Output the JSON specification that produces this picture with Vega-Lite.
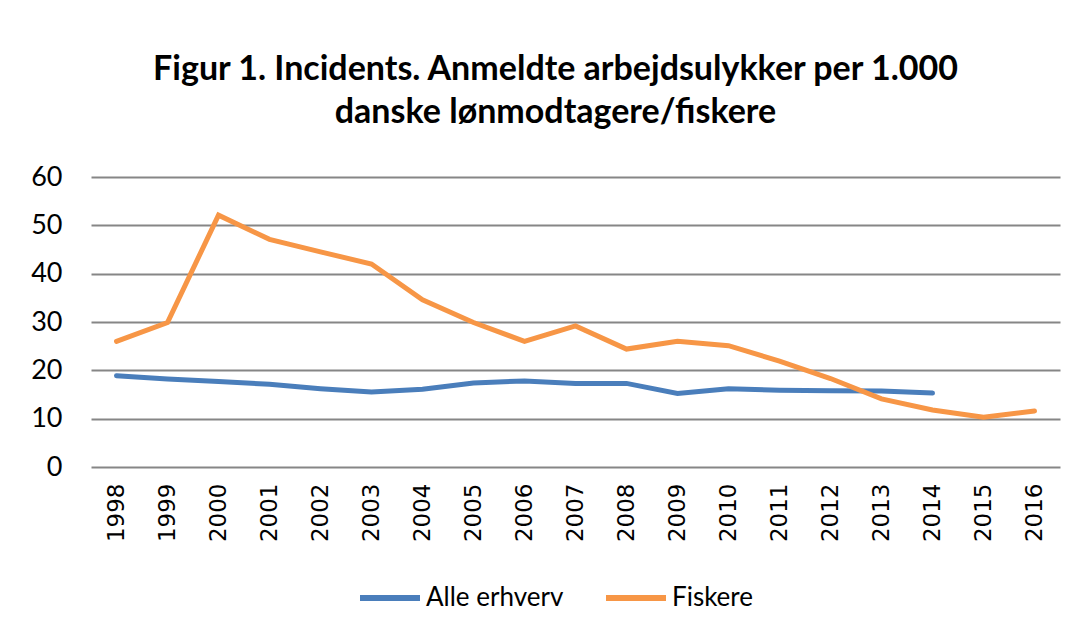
{
  "$schema": "https://vega.github.io/schema/vega-lite/v6.json",
  "width": 969,
  "height": 290,
  "autosize": {"type": "none"},
  "padding": {"left": 91, "top": 177, "right": 26, "bottom": 171},
  "background": "white",
  "title": {
    "text": ["Figur 1. Incidents. Anmeldte arbejdsulykker per 1.000", "danske lønmodtagere/fiskere"],
    "font": "Lato",
    "fontSize": 34,
    "fontWeight": "bold",
    "color": "black",
    "anchor": "middle",
    "dx": -20,
    "offset": 33,
    "lineHeight": 43
  },
  "data": {
    "values": [
      {"year": "1998", "series": "Alle erhverv", "value": 18.9},
      {"year": "1999", "series": "Alle erhverv", "value": 18.2},
      {"year": "2000", "series": "Alle erhverv", "value": 17.7},
      {"year": "2001", "series": "Alle erhverv", "value": 17.1},
      {"year": "2002", "series": "Alle erhverv", "value": 16.2},
      {"year": "2003", "series": "Alle erhverv", "value": 15.5},
      {"year": "2004", "series": "Alle erhverv", "value": 16.1},
      {"year": "2005", "series": "Alle erhverv", "value": 17.4},
      {"year": "2006", "series": "Alle erhverv", "value": 17.8},
      {"year": "2007", "series": "Alle erhverv", "value": 17.3},
      {"year": "2008", "series": "Alle erhverv", "value": 17.3},
      {"year": "2009", "series": "Alle erhverv", "value": 15.2},
      {"year": "2010", "series": "Alle erhverv", "value": 16.2},
      {"year": "2011", "series": "Alle erhverv", "value": 15.9},
      {"year": "2012", "series": "Alle erhverv", "value": 15.8},
      {"year": "2013", "series": "Alle erhverv", "value": 15.7},
      {"year": "2014", "series": "Alle erhverv", "value": 15.3},
      {"year": "1998", "series": "Fiskere", "value": 26.0},
      {"year": "1999", "series": "Fiskere", "value": 29.9},
      {"year": "2000", "series": "Fiskere", "value": 52.1},
      {"year": "2001", "series": "Fiskere", "value": 47.1},
      {"year": "2002", "series": "Fiskere", "value": 44.5},
      {"year": "2003", "series": "Fiskere", "value": 42.0},
      {"year": "2004", "series": "Fiskere", "value": 34.6},
      {"year": "2005", "series": "Fiskere", "value": 29.9},
      {"year": "2006", "series": "Fiskere", "value": 26.0},
      {"year": "2007", "series": "Fiskere", "value": 29.2},
      {"year": "2008", "series": "Fiskere", "value": 24.4},
      {"year": "2009", "series": "Fiskere", "value": 26.0},
      {"year": "2010", "series": "Fiskere", "value": 25.1},
      {"year": "2011", "series": "Fiskere", "value": 21.9},
      {"year": "2012", "series": "Fiskere", "value": 18.3},
      {"year": "2013", "series": "Fiskere", "value": 14.1},
      {"year": "2014", "series": "Fiskere", "value": 11.8},
      {"year": "2015", "series": "Fiskere", "value": 10.3},
      {"year": "2016", "series": "Fiskere", "value": 11.6}
    ]
  },
  "mark": {"type": "line", "strokeWidth": 5, "strokeCap": "round"},
  "encoding": {
    "x": {
      "field": "year",
      "type": "ordinal",
      "scale": {"padding": 0.5},
      "axis": {
        "title": null,
        "labelAngle": -90,
        "labelFont": "DejaVu Sans",
        "labelFontSize": 23,
        "labelColor": "black",
        "labelPadding": 16,
        "domain": false,
        "ticks": false,
        "grid": false
      }
    },
    "y": {
      "field": "value",
      "type": "quantitative",
      "scale": {"domain": [0, 60], "nice": false},
      "axis": {
        "title": null,
        "values": [0, 10, 20, 30, 40, 50, 60],
        "grid": true,
        "gridColor": "#868686",
        "gridWidth": 2,
        "domain": false,
        "ticks": false,
        "labelFont": "Lato",
        "labelFontSize": 27,
        "labelColor": "black",
        "labelPadding": 29
      }
    },
    "color": {
      "field": "series",
      "type": "nominal",
      "scale": {"domain": ["Alle erhverv", "Fiskere"], "range": ["#4a7ebb", "#f79646"]},
      "legend": {
        "title": null,
        "orient": "none",
        "legendX": 266,
        "legendY": 388,
        "direction": "horizontal",
        "symbolType": "stroke",
        "symbolStrokeWidth": 6,
        "symbolSize": 3600,
        "labelFont": "Lato",
        "labelFontSize": 26,
        "labelColor": "black",
        "labelOffset": 3,
        "columnPadding": 30
      }
    }
  },
  "config": {"view": {"stroke": null}}
}
